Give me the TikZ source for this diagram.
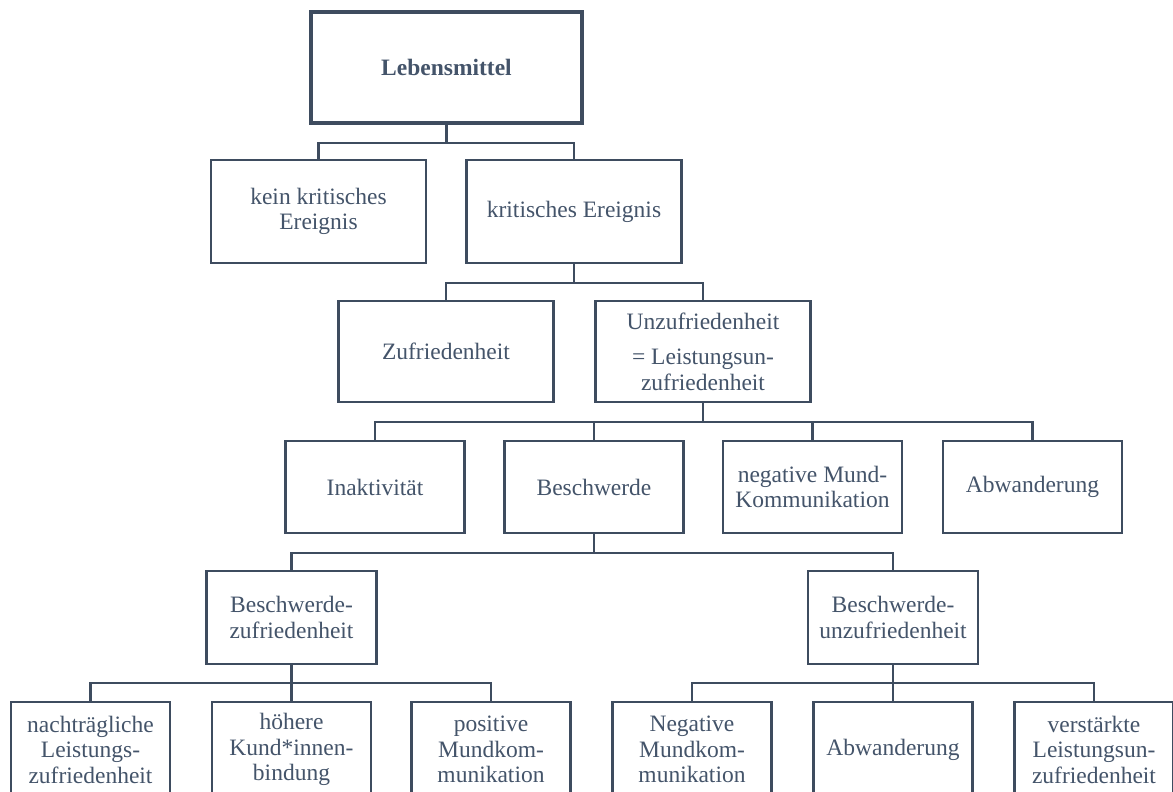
\documentclass[tikz,border=0pt]{standalone}
\usepackage{fontspec}
\setmainfont{Liberation Serif}
\definecolor{txt}{HTML}{44546A}
\definecolor{ln}{HTML}{3E4C5F}
\begin{document}
\begin{tikzpicture}[x=1pt,y=-1pt,
  box/.style={draw=ln,line width=2.4pt,fill=white,text=txt,align=center,
    font=\fontsize{23.5}{25.5}\selectfont,inner sep=0pt,
    minimum width=#1},
  box/.default=215pt,
  conn/.style={draw=ln,line width=2.4pt}]
\useasboundingbox (0,0) rectangle (1173,792);
\clip (0,0) rectangle (1173,792);
% nodes
\node[box=271pt,minimum height=111pt,line width=4pt] (top) at (446.5,67.5) {\bfseries Lebensmittel};
\node[box,minimum height=103pt] (kein) at (318.5,211.5) {kein kritisches\\Ereignis};
\node[box,minimum height=103pt] (krit) at (574,211.5) {kritisches Ereignis};
\node[box,minimum height=101pt] (zuf) at (446,351.5) {Zufriedenheit};
\node[box,minimum height=101pt] (unz) at (703,351.5) {Unzufriedenheit\\[10pt]= Leistungsun-\\zufriedenheit};
\node[box=179pt,minimum height=92pt] (inak) at (375,487) {Inaktivität};
\node[box=179pt,minimum height=92pt] (besch) at (594,487) {Beschwerde};
\node[box=179pt,minimum height=92pt] (neg) at (812.5,487) {negative Mund-\\Kommunikation};
\node[box=179pt,minimum height=92pt] (abw) at (1032.5,487) {Abwanderung};
\node[box=170pt,minimum height=93pt] (bz) at (291.5,617.5) {Beschwerde-\\zufriedenheit};
\node[box=170pt,minimum height=93pt] (bu) at (893,617.5) {Beschwerde-\\unzufriedenheit};
\node[box=159pt,minimum height=95pt] (b1) at (90.5,749.5) {nachträgliche\\Leistungs-\\zufriedenheit};
\node[box=159pt,minimum height=95pt] (b2) at (291.5,749.5) {höhere\\Kund*innen-\\bindung};
\node[box=159pt,minimum height=95pt] (b3) at (491,749.5) {positive\\Mundkom-\\munikation};
\node[box=159pt,minimum height=95pt] (b4) at (692,749.5) {Negative\\Mundkom-\\munikation};
\node[box=159pt,minimum height=95pt] (b5) at (893,749.5) {Abwanderung};
\node[box=159pt,minimum height=95pt] (b6) at (1094,749.5) {verstärkte\\Leistungsun-\\zufriedenheit};
% junctions
\coordinate (j1) at (446.5,143);
\coordinate (j2) at (574,283);
\coordinate (j3) at (703,422);
\coordinate (j4) at (594,553);
\coordinate (j5) at (291.5,683);
\coordinate (j6) at (893,683);
% connectors
\draw[conn] (top.south) -- (j1);
\draw[conn] (kein.north) |- (j1) -| (krit.north);
\draw[conn] (krit.south) -- (j2);
\draw[conn] (zuf.north) |- (j2) -| (unz.north);
\draw[conn] (unz.south) -- (j3);
\draw[conn] (inak.north) |- (j3) -| (abw.north);
\draw[conn] (besch.north) -- (besch.north |- j3);
\draw[conn] (neg.north) -- (neg.north |- j3);
\draw[conn] (besch.south) -- (j4);
\draw[conn] (bz.north) |- (j4) -| (bu.north);
\draw[conn] (bz.south) -- (j5);
\draw[conn] (b1.north) |- (j5) -| (b3.north);
\draw[conn] (b2.north) -- (j5);
\draw[conn] (bu.south) -- (j6);
\draw[conn] (b4.north) |- (j6) -| (b6.north);
\draw[conn] (b5.north) -- (j6);
\end{tikzpicture}
\end{document}
